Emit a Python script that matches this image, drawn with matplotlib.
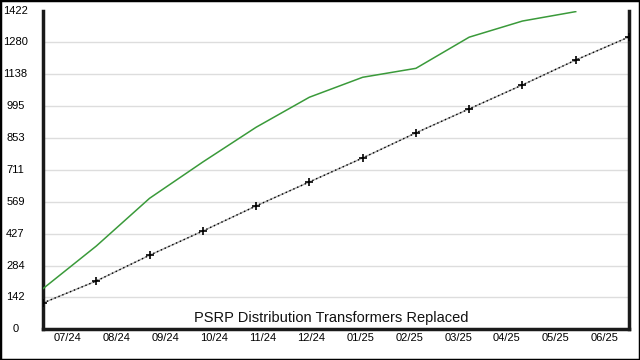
import matplotlib
matplotlib.use("Agg")
import matplotlib.pyplot as plt
from matplotlib.patches import Rectangle

months = ["07/24", "08/24", "09/24", "10/24", "11/24", "12/24",
          "01/25", "02/25", "03/25", "04/25", "05/25", "06/25"]
target = [117, 215, 330, 438, 550, 657, 764, 876, 983, 1090, 1201, 1304]
actual = [181, 371, 584, 746, 901, 1035, 1124, 1164, 1303, 1375, 1417]
yticks = [0, 142, 284, 427, 569, 711, 853, 995, 1138, 1280, 1422]
title = "PSRP Distribution Transformers Replaced"

plt.rcParams['font.family'] = ['Liberation Sans', 'DejaVu Sans']

fig = plt.figure(figsize=(6.4, 3.6), dpi=100)
W, H = 640, 360
left, right, top, bottom = 43, 629, 10.5, 329.2
ax = fig.add_axes([left / W, (H - bottom) / H, (right - left) / W, (bottom - top) / H])

n = len(target)
xs = list(range(n))
ax.set_xlim(0, n - 1)
ax.set_ylim(0, 1422)

for v in yticks[1:-1]:
    ax.axhline(v, color='#dddddd', lw=1.0, zorder=0)

# target line: gray with black dots
ax.plot(xs, target, color='#aaaaaa', lw=1.0, zorder=2)
ax.plot(xs, target, color='black', lw=1.0, ls=(0, (1, 2)), zorder=3)
ax.plot(xs, target, ls='none', marker='+', color='black', ms=6, mew=1.2, zorder=4)

ax.plot(xs[:len(actual)], actual, color='#3a9a3a', lw=1.1, zorder=3)

# y tick labels, centred in the left margin
ax.set_yticks(yticks)
ax.set_yticklabels([])
ax.tick_params(axis='y', length=0)
for v in yticks:
    ax.annotate(str(v), xy=(0, v), xycoords=('figure fraction', 'data'),
                xytext=(15.5, 0), textcoords='offset pixels',
                ha='center', va='center', fontsize=8, color='black',
                annotation_clip=False)

step = (n - 1) / len(months)
ax.set_xticks([(j + 0.5) * step for j in range(len(months))])
ax.set_xticklabels(months, fontsize=8)
ax.tick_params(axis='x', length=0, pad=2.5)

for s in ['left', 'bottom', 'right']:
    ax.spines[s].set_linewidth(2.5)
    ax.spines[s].set_color('#1a1a1a')
ax.spines['top'].set_visible(False)

ax.text((331.7 - left) / (right - left), (bottom - 317.7) / (bottom - top), title,
        transform=ax.transAxes, ha='center', va='center', fontsize=10.5, color='#111111')

fig.add_artist(Rectangle((0, 0), 1, 1, transform=fig.transFigure, fill=False,
                         edgecolor='black', lw=2.5, clip_on=False))

fig.savefig("out.png", dpi=100)
